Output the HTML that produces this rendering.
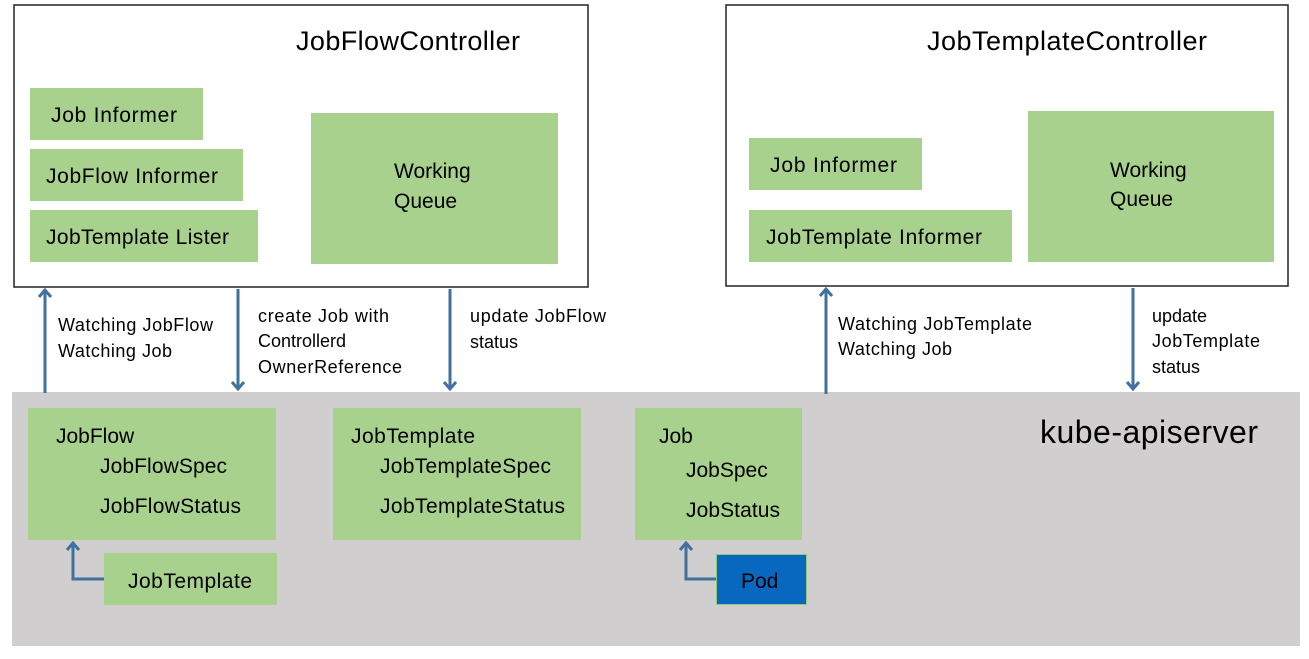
<!DOCTYPE html>
<html><head><style>body{margin:0;background:#fff}svg{display:block}text{font-family:"Liberation Sans",sans-serif;fill:#000}</style></head>
<body>
<svg width="1309" height="659" viewBox="0 0 1309 659">
<defs><marker id="a" markerWidth="16" markerHeight="16" refX="9" refY="8" orient="auto" markerUnits="userSpaceOnUse"><path d="M2,2 L9,8 L2,14" fill="none" stroke="#41719c" stroke-width="3"/></marker></defs>
<rect x="12" y="392" width="1288" height="254" fill="#d0cece"/>
<rect x="14" y="5" width="574" height="282" fill="#fff" stroke="#222" stroke-width="1.5"/>
<rect x="726" y="5" width="562" height="281" fill="#fff" stroke="#222" stroke-width="1.5"/>
<g fill="#a9d18e">
<rect x="30" y="88" width="173" height="52"/><rect x="30" y="149" width="213" height="52"/><rect x="30" y="210" width="228" height="52"/><rect x="311" y="113" width="247" height="151"/>
<rect x="749" y="138" width="173" height="52"/><rect x="749" y="210" width="263" height="52"/><rect x="1028" y="111" width="246" height="151"/>
<rect x="28" y="408" width="248" height="132"/><rect x="104" y="553" width="173" height="52"/><rect x="333" y="408" width="248" height="132"/><rect x="635" y="408" width="167" height="132"/>
</g>
<rect x="716.5" y="554.5" width="90" height="50" fill="#0868c0" stroke="#8cc97a" stroke-width="1"/>
<g font-size="27"><text x="296" y="50" textLength="224">JobFlowController</text><text x="927" y="50" textLength="280">JobTemplateController</text></g>
<g font-size="21">
<text x="51" y="122" textLength="126">Job Informer</text><text x="46" y="183" textLength="172">JobFlow Informer</text><text x="46" y="244" textLength="183">JobTemplate Lister</text>
<text x="394" y="178">Working</text><text x="394" y="208">Queue</text>
<text x="770" y="172" textLength="127">Job Informer</text><text x="766" y="244" textLength="216">JobTemplate Informer</text>
<text x="1110" y="177">Working</text><text x="1110" y="206">Queue</text>
<text x="56" y="443">JobFlow</text><text x="100" y="473" textLength="127">JobFlowSpec</text><text x="100" y="513" textLength="141">JobFlowStatus</text>
<text x="128" y="588" textLength="124">JobTemplate</text>
<text x="351" y="443" textLength="124">JobTemplate</text><text x="380" y="473" textLength="171">JobTemplateSpec</text><text x="380" y="513" textLength="185">JobTemplateStatus</text>
<text x="659" y="443">Job</text><text x="686" y="477">JobSpec</text><text x="686" y="517" textLength="94">JobStatus</text>
<text x="741" y="588">Pod</text>
</g>
<text x="1040" y="443" font-size="32" textLength="218">kube-apiserver</text>
<g font-size="18">
<text x="58" y="331" textLength="155">Watching JobFlow</text><text x="58" y="357" textLength="114">Watching Job</text>
<text x="258" y="322" textLength="131">create Job with</text><text x="258" y="347">Controllerd</text><text x="258" y="373" textLength="144">OwnerReference</text>
<text x="470" y="322" textLength="136">update JobFlow</text><text x="470" y="348">status</text>
<text x="838" y="330" textLength="194">Watching JobTemplate</text><text x="838" y="355" textLength="114">Watching Job</text>
<text x="1152" y="322">update</text><text x="1152" y="347" textLength="108">JobTemplate</text><text x="1152" y="373">status</text>
</g>
<g stroke="#41719c" stroke-width="3" fill="none">
<line x1="45" y1="393" x2="45" y2="290" marker-end="url(#a)"/>
<line x1="238" y1="289" x2="238" y2="389" marker-end="url(#a)"/>
<line x1="450" y1="289" x2="450" y2="389" marker-end="url(#a)"/>
<line x1="826" y1="394" x2="826" y2="289" marker-end="url(#a)"/>
<line x1="1133" y1="288" x2="1133" y2="389" marker-end="url(#a)"/>
<polyline points="104,579 73,579 73,543" marker-end="url(#a)"/>
<polyline points="716,579 686,579 686,543" marker-end="url(#a)"/>
</g>
</svg>
</body></html>
